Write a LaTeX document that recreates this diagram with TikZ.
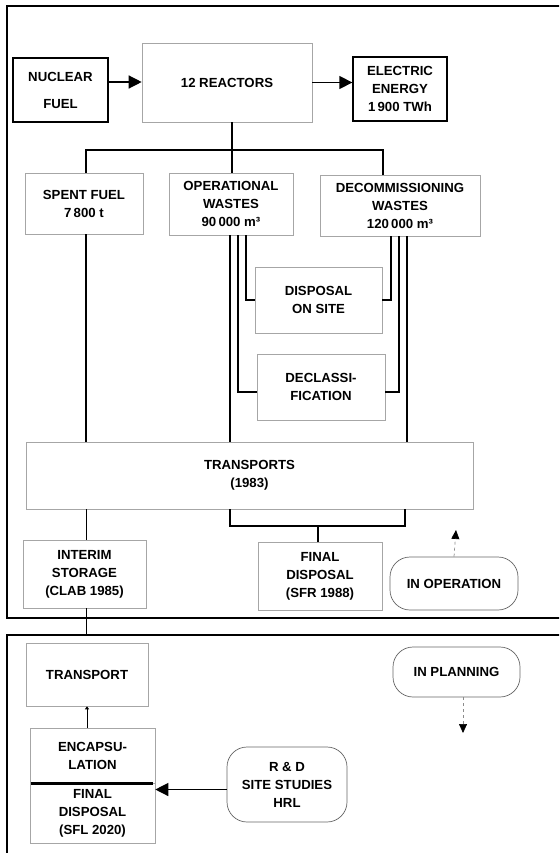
\documentclass[tikz,border=0pt]{standalone}
\usepackage{fontspec}
\setmainfont{Liberation Sans}
\usetikzlibrary{arrows.meta}
\begin{document}
\begin{tikzpicture}[x=1pt,y=-1pt]
\tikzset{
 box/.style={draw=black!35, line width=0.6pt, align=center, inner sep=1pt,
   font=\fontsize{13.2}{18}\selectfont\bfseries},
 solidbox/.style={box, draw=black, line width=1.3pt},
 pill/.style={box, rounded corners=20pt, draw=black!60, line width=0.7pt},
 conn/.style={line width=1.3pt},
 arr/.style={conn, -{Triangle[length=13pt,width=13pt]}},
 darr/.style={line width=0.7pt, draw=black!45, dashed, -{Triangle[length=9pt,width=8pt,fill=black,color=black]}},
 frame/.style={line width=1.6pt}
}
\clip (0,0) rectangle (559,853);
\fill[white] (0,0) rectangle (559,853);
% frames
\draw[frame] (7,6) rectangle (620,618);
\draw[frame] (7,635) rectangle (620,880);
% nodes
\node[solidbox, minimum width=95pt, minimum height=64pt, font=\fontsize{13.2}{27}\selectfont\bfseries] (nf) at (60.5,90) {NUCLEAR\\FUEL};
\node[box, minimum width=170pt, minimum height=79pt] (re) at (227,82.5) {12 REACTORS};
\node[solidbox, minimum width=94pt, minimum height=64pt] (ee) at (400,89) {ELECTRIC\\ENERGY\\1\,900 TWh};
\node[box, minimum width=118pt, minimum height=61pt] (sf) at (84,203.5) {SPENT FUEL\\7\,800 t};
\node[box, minimum width=124pt, minimum height=62pt] (ow) at (231,204) {OPERATIONAL\\WASTES\\90\,000 m³};
\node[box, minimum width=160pt, minimum height=61pt] (dw) at (400,205.5) {DECOMMISSIONING\\WASTES\\120\,000 m³};
\node[box, minimum width=127pt, minimum height=66pt] (ds) at (318.5,300) {DISPOSAL\\ON SITE};
\node[box, minimum width=128pt, minimum height=66pt] (dc) at (321,387) {DECLASSI-\\FICATION};
\node[box, minimum width=447pt, minimum height=67pt] (tr) at (249.5,475.5) {TRANSPORTS\\(1983)};
\node[box, minimum width=123pt, minimum height=68pt] (is) at (84.5,574) {INTERIM\\STORAGE\\(CLAB 1985)};
\node[box, minimum width=124pt, minimum height=68pt] (fd) at (320,576) {FINAL\\DISPOSAL\\(SFR 1988)};
\node[pill, minimum width=128pt, minimum height=53pt] (io) at (454,583.5) {IN OPERATION};
\node[box, minimum width=122pt, minimum height=63pt] (tp) at (87,674.5) {TRANSPORT};
\node[box, minimum width=125pt, minimum height=55pt] (en) at (92.5,755.5) {ENCAPSU-\\LATION};
\node[box, minimum width=125pt, minimum height=60pt] (sfl) at (92.5,813) {FINAL\\DISPOSAL\\(SFL 2020)};
\node[pill, minimum width=120pt, minimum height=75pt] (rd) at (287,784.5) {R \& D\\SITE STUDIES\\HRL};
\node[pill, minimum width=127pt, minimum height=50pt] (ip) at (456.5,672) {IN PLANNING};
% coordinates
\coordinate (bus) at (0,150);
\coordinate (bus2) at (0,526);
\coordinate (lowtop) at (0,635);
\coordinate (uptip) at (456,530);
\coordinate (downtip) at (463,733);
% connectors top
\draw[arr] ([yshift=8pt]nf.east) -- ([yshift=8pt]nf.east -| re.west);
\draw[arr] (re.east) -- (re.east -| ee.west);
\draw[conn] ([xshift=5pt]re.south) -- ([xshift=5pt]re.south |- bus);
\draw[conn] ([xshift=2pt]sf.north) |- ([xshift=-17pt]dw.north |- bus) -- ([xshift=-17pt]dw.north);
\draw[conn] ([xshift=5pt]re.south |- bus) -- ([xshift=5pt]re.south |- ow.north);
% operational wastes
\draw[conn] ([xshift=15pt]ow.south) |- (ds.west);
\draw[conn] ([xshift=7pt]ow.south) |- ([yshift=-5pt]dc.west);
\draw[conn] ([xshift=-1pt]ow.south) -- ([xshift=-1pt]ow.south |- tr.north);
% decommissioning wastes
\draw[conn] ([xshift=-9pt]dw.south) |- (ds.east);
\draw[conn] ([xshift=-1pt]dw.south) |- ([yshift=-5pt]dc.east);
\draw[conn] ([xshift=7pt]dw.south) -- ([xshift=7pt]dw.south |- tr.north);
% spent fuel
\draw[conn] ([xshift=2pt]sf.south) -- ([xshift=2pt]sf.south |- tr.north);
% below transports
\draw[conn] ([xshift=2pt]is.north |- tr.south) -- ([xshift=2pt]is.north);
\draw[conn] ([xshift=-19.5pt]tr.south) |- ([xshift=-19.5pt]tr.south |- bus2) -| ([xshift=155.5pt]tr.south);
\draw[conn] ([xshift=-2pt]fd.north |- bus2) -- ([xshift=-2pt]fd.north);
\draw[conn] ([xshift=2pt]is.south) -- ([xshift=2pt]is.south |- lowtop);
\draw[darr] (io.north) -- (uptip);
% lower frame
\draw[line width=1pt, -{Triangle[length=3pt,width=4pt]}] (en.north -| tp.south) -- (tp.south);
\draw[line width=3pt] ([xshift=1pt]en.south west) -- ([xshift=-2pt]en.south east);
\draw[arr] ([yshift=-5pt]rd.west) -- ([yshift=-5pt]rd.west -| sfl.east);
\draw[darr] ([xshift=6.5pt]ip.south) -- (downtip);
\end{tikzpicture}
\end{document}
